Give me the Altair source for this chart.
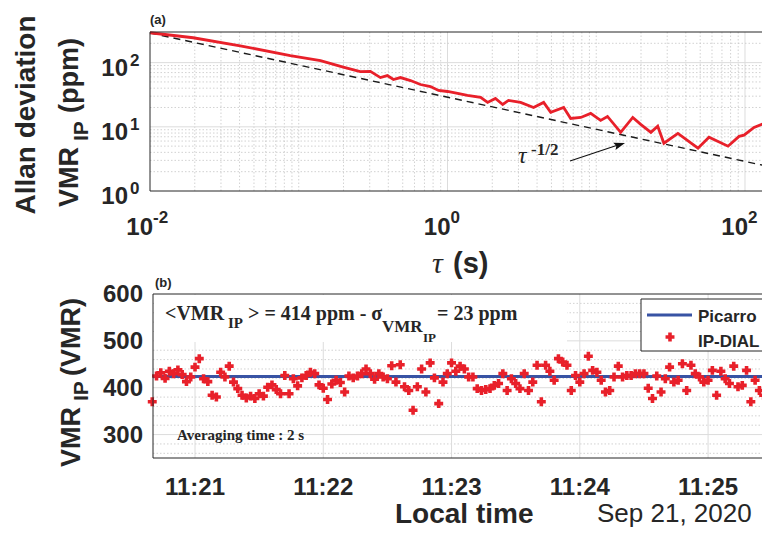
import altair as alt
import pandas as pd

# ---------------- panel (a): Allan deviation ----------------
TAU = [0.01, 0.0195, 0.0404, 0.0877, 0.140, 0.199, 0.259, 0.303, 0.354, 0.394,
       0.433, 0.483, 0.564, 0.658, 0.769, 0.870, 1.0, 1.17, 1.36, 1.67,
       1.86, 2.10, 2.35, 2.57, 3.10, 3.79, 4.43, 4.94, 6.04, 6.73,
       7.87, 9.18, 10.7, 11.9, 14.6, 17.6, 19.9, 23.3, 25.9, 28.5,
       35.4, 48.3, 57.3, 76.9, 91.2, 98.5, 115, 134, 145]
ADEV = [292, 244, 183, 128, 107, 85, 72.5, 73, 58.5, 62.8,
        54.5, 58.5, 52.6, 45.6, 42.4, 36.8, 35.5, 33.1, 30.8, 28.7,
        24.0, 27.7, 22.3, 25.8, 24.0, 20.0, 24.0, 16.8, 20.0, 13.5,
        14.0, 16.2, 12.6, 14.5, 8.2, 14.0, 10.9, 8.2, 10.2, 5.55,
        7.9, 4.64, 6.88, 4.99, 7.1, 7.4, 9.8, 11.3, 11.7]
REF_TAU = [0.01, 145]
REF_ADEV = [290, 2.4]

XTICK_A = [0.01, 1, 100]
XEXP_A = ["-2", "0", "2"]
YTICK_A = [1, 10, 100]
YEXP_A = ["0", "1", "2"]
XMAJ_A = [1, 100]
XMIN_A = [0.02, 0.03, 0.04, 0.05, 0.06, 0.07, 0.08, 0.09, 0.1,
          0.2, 0.3, 0.4, 0.5, 0.6, 0.7, 0.8, 0.9,
          2, 3, 4, 5, 6, 7, 8, 9, 10, 20, 30, 40, 50, 60, 70, 80, 90]
YMAJ_A = [10, 100]
YMIN_A = [2, 3, 4, 5, 6, 7, 8, 9, 20, 30, 40, 50, 60, 70, 80, 90, 200]

# ---------------- panel (b): time series ----------------
T_START = 40   # seconds after 11:20:00
T_STEP = 2     # averaging time 2 s
VMR = [370, 425, 432, 420, 435, 430, 438, 428, 413, 423, 444, 462, 419, 413, 384,
       380, 433, 423, 446, 412, 398, 384, 378, 382, 377, 387, 382, 401, 406, 396,
       387, 426, 387, 419, 404, 421, 426, 433, 430, 406, 399, 375, 408, 416, 411,
       391, 425, 421, 425, 430, 440, 430, 418, 430, 423, 419, 447, 412,
       449, 402, 394, 352, 402, 440, 391, 453, 421, 366, 412, 430, 453, 435, 446,
       440, 423, 423, 398, 394, 396, 398, 405, 409, 430, 394, 419, 409, 398, 430,
       394, 412, 448, 370, 448, 435, 416, 462, 455, 448, 394, 426, 412, 430, 467,
       437, 433, 416, 391, 394, 423, 446, 423, 426, 426, 430, 430, 430, 399, 377,
       425, 391, 419, 444, 412, 416, 451, 394, 448, 430, 423, 412, 416, 437, 384,
       435, 419, 409, 446, 402, 405, 437, 370, 416, 394, 384, 409]
TIME = [T_START + T_STEP * i for i in range(len(VMR))]
PIC_T = [40.35, 328.5]
PIC_VMR = [424, 424]

XTICK_B = [60, 120, 180, 240, 300]
XLAB_B = ["11:21", "11:22", "11:23", "11:24", "11:25"]
YTICK_B = [300, 400, 500, 600]
YMAJ_B = [300, 400, 500]
YMIN_B = [260, 280, 320, 340, 360, 380, 420, 440, 460, 480, 520, 540, 560, 580]

RED = "#e8202a"
BLUE = "#3853a4"
INK = "#262626"
SANS = "Liberation Sans"
SERIF = "Liberation Serif"
OFF = 8          # page margin: page pixel -> chart pixel
W, H = 754, 521  # whole drawing
ONE = alt.Data(values=[{}])


def p(v):
    return v - OFF


def txt(s, x, y, size, font=SANS, weight="bold", align="left", angle=0, style="normal", color=INK):
    kw = dict(text=s, align=align, baseline="alphabetic", font=font, fontSize=size,
              fontWeight=weight, fontStyle=style, color=color)
    if angle:
        kw["angle"] = angle
    return alt.Chart(ONE).mark_text(**kw).encode(x=alt.value(p(x)), y=alt.value(p(y)))


# panel frames (page coordinates)
A_L, A_R, A_T, A_B = 150, 769, 32, 191
B_L, B_R, B_T, B_B = 153, 769, 294, 458

xA = alt.Scale(type="log", domain=[0.01, 145], range=[p(A_L), p(A_R)], nice=False)
yA = alt.Scale(type="log", domain=[1, 300], range=[p(A_B), p(A_T)], nice=False)
xB = alt.Scale(domain=[40.35, 328.5], range=[p(B_L), p(B_R)], nice=False, zero=False)
yB = alt.Scale(domain=[250, 600], range=[p(B_B), p(B_T)], nice=False, zero=False)

MINOR = dict(color="#c6c6c6", strokeDash=[1.5, 2], strokeWidth=0.8)
MAJOR = dict(color="#dcdcdc", strokeWidth=1)


def vrules(vals, sc, top, bot, style):
    return alt.Chart(pd.DataFrame({"v": vals})).mark_rule(**style).encode(
        x=alt.X("v:Q", scale=sc, axis=None), y=alt.value(p(top)), y2=alt.value(p(bot)))


def hrules(vals, sc, left, right, style):
    return alt.Chart(pd.DataFrame({"v": vals})).mark_rule(**style).encode(
        y=alt.Y("v:Q", scale=sc, axis=None), x=alt.value(p(left)), x2=alt.value(p(right)))


def frame(l, r, t, b):
    return alt.Chart(ONE).mark_rect(fill="transparent", stroke=INK, strokeWidth=1).encode(
        x=alt.value(p(l)), x2=alt.value(p(r)), y=alt.value(p(t)), y2=alt.value(p(b)))


# ---------- top panel ----------
ref = alt.Chart(pd.DataFrame({"t": REF_TAU, "a": REF_ADEV})).mark_line(
    color="#1a1a1a", strokeWidth=1.4, strokeDash=[7, 5]).encode(
    x=alt.X("t:Q", scale=xA, axis=None), y=alt.Y("a:Q", scale=yA, axis=None))
adev = alt.Chart(pd.DataFrame({"t": TAU, "a": ADEV})).mark_line(
    color=RED, strokeWidth=2.8).encode(
    x=alt.X("t:Q", scale=xA, axis=None), y=alt.Y("a:Q", scale=yA, axis=None))

xlabA = pd.DataFrame({"v": XTICK_A, "e": XEXP_A})
xbase_A = alt.Chart(xlabA).mark_text(text="10", align="right", baseline="alphabetic", dx=3,
                                    font=SANS, fontSize=24, fontWeight="bold", color=INK).encode(
    x=alt.X("v:Q", scale=xA, axis=None), y=alt.value(p(235)))
xexp_A = alt.Chart(xlabA).mark_text(align="left", baseline="alphabetic", dx=3,
                                   font=SANS, fontSize=17, fontWeight="bold", color=INK).encode(
    x=alt.X("v:Q", scale=xA, axis=None), y=alt.value(p(223)), text="e:N")
ylabA = pd.DataFrame({"v": YTICK_A, "e": YEXP_A})
ybase_A = alt.Chart(ylabA).mark_text(text="10", align="right", baseline="alphabetic", dy=13,
                                    font=SANS, fontSize=24, fontWeight="bold", color=INK).encode(
    y=alt.Y("v:Q", scale=yA, axis=None), x=alt.value(p(128)))
yexp_A = alt.Chart(ylabA).mark_text(align="left", baseline="alphabetic", dy=3,
                                   font=SANS, fontSize=17, fontWeight="bold", color=INK).encode(
    y=alt.Y("v:Q", scale=yA, axis=None), x=alt.value(p(130)), text="e:N")

arrow = alt.Chart(ONE).mark_rule(color="#111111", strokeWidth=1.3).encode(
    x=alt.value(p(570)), x2=alt.value(p(618)), y=alt.value(p(161)), y2=alt.value(p(145)))
head = alt.Chart(ONE).mark_point(shape="M0,0L0.55,1.6L0,1.3L-0.55,1.6Z", filled=True, size=196,
                                 color="#111111", opacity=1, angle=72).encode(
    x=alt.value(p(625)), y=alt.value(p(143)))

top = alt.layer(
    vrules(XMIN_A, xA, A_T, A_B, MINOR), vrules(XMAJ_A, xA, A_T, A_B, MAJOR),
    hrules(YMIN_A, yA, A_L, A_R, MINOR), hrules(YMAJ_A, yA, A_L, A_R, MAJOR),
    ref, adev, arrow, head, frame(A_L, A_R, A_T, A_B),
    xbase_A, xexp_A, ybase_A, yexp_A,
    txt("τ", 518, 163, 24, font=SERIF, weight="normal", style="italic"),
    txt("-1/2", 531, 155, 17, font=SERIF),
    txt("(a)", 150, 24, 13),
    txt("Allan deviation", 35, 115, 28, align="center", angle=270),
    txt("VMR", 78, 207, 27, angle=270),
    txt("IP", 88, 141, 21, angle=270),
    txt("(ppm)", 78, 113, 27, angle=270),
    txt("τ", 432, 273, 30, font=SERIF, weight="normal", style="italic"),
    txt("(s)", 453, 273, 29),
)

# ---------- bottom panel ----------
cover = alt.Chart(ONE).mark_rect(color="white").encode(
    x=alt.value(p(B_L + 1)), x2=alt.value(p(567)), y=alt.value(p(B_T + 1)), y2=alt.value(p(342)))
pic = alt.Chart(pd.DataFrame({"t": PIC_T, "v": PIC_VMR})).mark_line(color=BLUE, strokeWidth=3).encode(
    x=alt.X("t:Q", scale=xB, axis=None), y=alt.Y("v:Q", scale=yB, axis=None))
dial = alt.Chart(pd.DataFrame({"t": TIME, "v": VMR})).mark_point(
    shape="cross", filled=True, size=80, color=RED, opacity=1).encode(
    x=alt.X("t:Q", scale=xB, axis=None), y=alt.Y("v:Q", scale=yB, axis=None))

xlab_B = alt.Chart(pd.DataFrame({"v": XTICK_B, "s": XLAB_B})).mark_text(
    align="center", baseline="alphabetic", font=SANS, fontSize=24, fontWeight="bold", color=INK).encode(
    x=alt.X("v:Q", scale=xB, axis=None), y=alt.value(p(495)), text="s:N")
ylab_B = alt.Chart(pd.DataFrame({"v": YTICK_B})).mark_text(
    align="right", baseline="middle", dy=1, font=SANS, fontSize=24, fontWeight="bold", color=INK).encode(
    y=alt.Y("v:Q", scale=yB, axis=None), x=alt.value(p(143)), text="v:Q")

leg_box = alt.Chart(ONE).mark_rect(fill="white", stroke=INK, strokeWidth=1).encode(
    x=alt.value(p(641)), x2=alt.value(p(790)), y=alt.value(p(299)), y2=alt.value(p(351)))
leg_line = alt.Chart(ONE).mark_rule(color=BLUE, strokeWidth=3).encode(
    x=alt.value(p(647)), x2=alt.value(p(692)), y=alt.value(p(315)))
leg_pt = alt.Chart(ONE).mark_point(shape="cross", filled=True, size=80, color=RED, opacity=1).encode(
    x=alt.value(p(670)), y=alt.value(p(337)))

bottom = alt.layer(
    hrules(YMIN_B, yB, B_L, B_R, MINOR), hrules(YMAJ_B, yB, B_L, B_R, MAJOR),
    vrules(XTICK_B, xB, B_T, B_B, MAJOR),
    cover, pic, dial, frame(B_L, B_R, B_T, B_B),
    xlab_B, ylab_B,
    txt("(b)", 155, 287, 13),
    txt("<VMR", 165, 320, 20, font=SERIF),
    txt("IP", 228, 328, 15, font=SERIF),
    txt("> = 414 ppm - σ", 248, 320, 20, font=SERIF),
    txt("VMR", 382, 332, 17, font=SERIF),
    txt("IP", 423, 342, 13, font=SERIF),
    txt("= 23 ppm", 437, 320, 20, font=SERIF),
    txt("Averaging time : 2 s", 177, 440, 15, font=SERIF),
    leg_box, leg_line, leg_pt,
    txt("Picarro", 698, 322, 17),
    txt("IP-DIAL", 698, 347, 17),
    txt("VMR", 80, 467, 27, angle=270),
    txt("IP", 88, 401, 21, angle=270),
    txt("(VMR)", 80, 376, 27, angle=270),
    txt("Local time", 395, 523, 28),
    txt("Sep 21, 2020", 597, 522, 26, weight="normal"),
)

chart = alt.layer(top, bottom).resolve_scale(x="independent", y="independent").properties(
    width=W, height=H, padding=0, background="white",
    autosize=alt.AutoSizeParams(type="none"),
).configure_view(stroke="transparent", strokeWidth=0)

chart.save("out.html", embed_options={"renderer": "svg", "actions": False})
